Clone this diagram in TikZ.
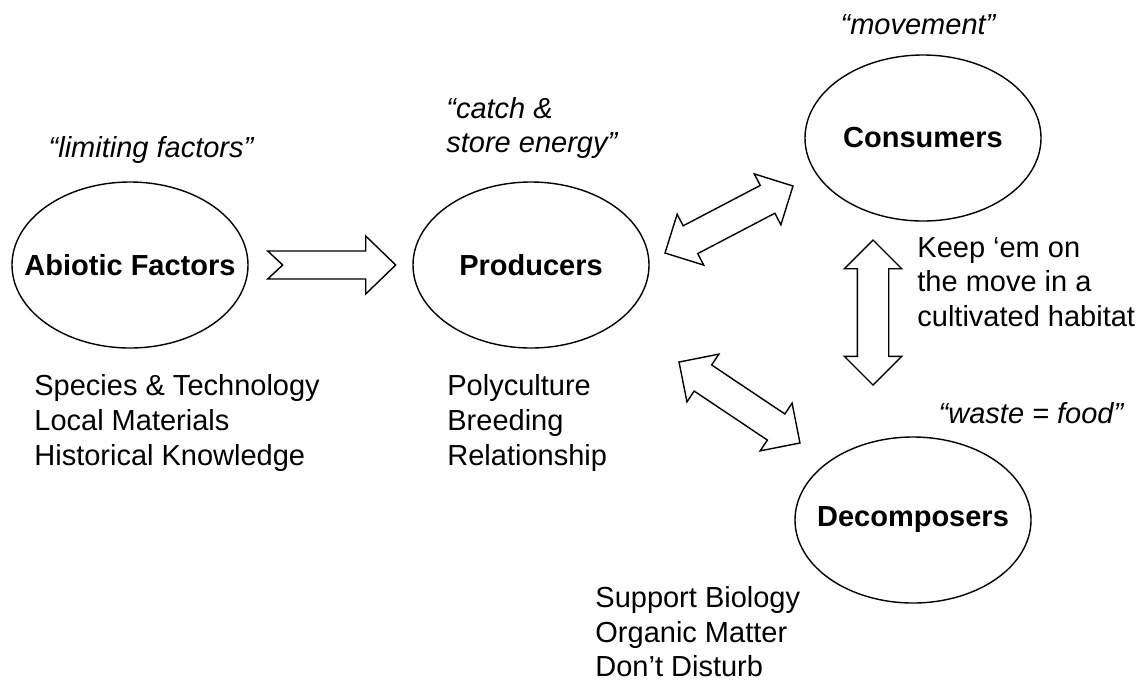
\documentclass[tikz,border=0pt]{standalone}
\usepackage{fontspec}
\setmainfont{Liberation Sans}
\usetikzlibrary{shapes.geometric,shapes.arrows,calc,positioning}
\newcommand{\ecofont}{\fontsize{14.5}{17.3}\selectfont}

\begin{document}
\begin{tikzpicture}[
    x=0.5pt, y=-0.5pt,
    eco/.style={draw, ellipse, line width=0.7pt, minimum width=118pt,
      minimum height=83pt, inner sep=0pt,
      label={[font=\ecofont\bfseries]center:#1}},
    quote/.style={font=\ecofont\itshape, inner sep=0pt},
    notes/.style={font=\ecofont, align=left, anchor=west, inner sep=0pt},
    fat/.style={draw, line width=0.7pt, line join=miter},
    fatdouble/.style={fat, double arrow, inner xsep=0pt, inner ysep=7.5pt,
      double arrow head extend=6.5pt, double arrow tip angle=90},
  ]
  \useasboundingbox (0,0) rectangle (1145,682);

  % The four groups
  \node[eco=Abiotic Factors] (abiotic) at (130,265) {};
  \node[eco=Producers] (producers) at (531,265) {};
  \node[eco=Consumers] (consumers) at (923,138) {};
  \node[eco=Decomposers] (decomposers) at (913,520) {};

  % Catch phrases
  \node[quote] (qlimit) at (151,150) {“limiting factors”};
  \node[quote, align=left, anchor=west] (qcatch) at (446,128)
    {“catch \&\\store energy”};
  \node[quote] (qmove) at (918,25) {“movement”};
  \node[quote] (qwaste) at (1031,413) {“waste = food”};

  % Notes under each group
  \node[notes] (nabiotic) at (34,423)
    {Species \& Technology\\Local Materials\\Historical Knowledge};
  \node[notes] (nproducers) at (447,423)
    {Polyculture\\Breeding\\Relationship};
  \node[notes] (nconsumers) at (917,282)
    {Keep ‘em on\\the move in a\\cultivated habitat};
  \node[notes] (ndecomposers) at (595,632)
    {Support Biology\\Organic Matter\\Don’t Disturb};

  % Arrow: abiotic -> producers (notched tail)
  \coordinate (a2p) at ($(abiotic.east)+(19,0)$);
  \draw[fat] (a2p) ++(0,-14) -- ++(98,0) -- ++(0,-15) -- ++(30,29)
    -- ++(-30,29) -- ++(0,-15) -- ++(-98,0) -- ++(15,-14) -- cycle;

  % Two-way arrows
  \coordinate (p2c-a) at (665,253);
  \coordinate (p2c-b) at (793,186);
  \coordinate (p2d-a) at (679,362);
  \coordinate (p2d-b) at (800,443);
  \coordinate (c2d-a) at (873,240);
  \coordinate (c2d-b) at (873,385);
  \foreach \from/\to/\name in {p2c-a/p2c-b/p2c, p2d-a/p2d-b/p2d,
      c2d-a/c2d-b/c2d} {
    \path let \p1 = ($(\to)-(\from)$) in (\from) -- (\to)
      node[fatdouble, midway, sloped,
        minimum height={veclen(\x1,\y1)}] (\name) {};
  }

\end{tikzpicture}
\end{document}
